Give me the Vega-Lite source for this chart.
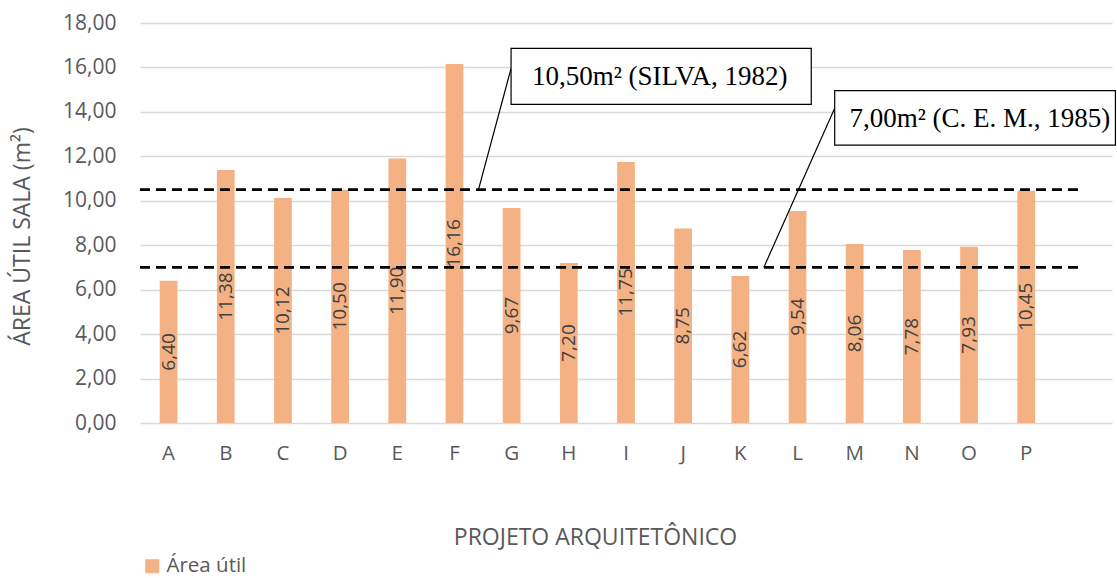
{
  "$schema": "https://vega.github.io/schema/vega-lite/v6.json",
  "width": 972,
  "height": 400,
  "autosize": {"type": "none"},
  "padding": {"left": 140, "top": 23, "right": 5, "bottom": 155},
  "config": {
    "locale": {"number": {"decimal": ",", "thousands": ".", "grouping": [3], "currency": ["R$", ""]}},
    "view": {"stroke": null},
    "font": "Open Sans"
  },
  "datasets": {
    "bars": [
      {"projeto": "A", "area": 6.40},
      {"projeto": "B", "area": 11.38},
      {"projeto": "C", "area": 10.12},
      {"projeto": "D", "area": 10.50},
      {"projeto": "E", "area": 11.90},
      {"projeto": "F", "area": 16.16},
      {"projeto": "G", "area": 9.67},
      {"projeto": "H", "area": 7.20},
      {"projeto": "I", "area": 11.75},
      {"projeto": "J", "area": 8.75},
      {"projeto": "K", "area": 6.62},
      {"projeto": "L", "area": 9.54},
      {"projeto": "M", "area": 8.06},
      {"projeto": "N", "area": 7.78},
      {"projeto": "O", "area": 7.93},
      {"projeto": "P", "area": 10.45}
    ],
    "refs": [
      {"ref": "SILVA", "valor": 10.5},
      {"ref": "CEM", "valor": 7.0}
    ]
  },
  "resolve": {"scale": {"x": "independent", "y": "independent"}},
  "layer": [
    {
      "data": {"name": "bars"},
      "mark": {"type": "bar"},
      "encoding": {
        "x": {
          "field": "projeto", "type": "nominal",
          "scale": {"domain": ["A","B","C","D","E","F","G","H","I","J","K","L","M","N","O","P",""], "paddingInner": 0.69, "paddingOuter": 0.345},
          "axis": {
            "title": "PROJETO ARQUITETÔNICO", "labelAngle": 0, "domain": false, "ticks": false, "tickSize": 0,
            "labelPadding": 30, "labelBaseline": "middle", "labelFontSize": 20.5, "labelColor": "#595959",
            "titleFontSize": 23, "titleFontWeight": "normal", "titleColor": "#595959",
            "titleX": 455, "titleY": 114, "titleBaseline": "middle", "titleAlign": "center"
          }
        },
        "y": {
          "field": "area", "type": "quantitative",
          "scale": {"domain": [0, 18], "nice": false},
          "axis": {
            "title": "ÁREA ÚTIL SALA (m²)", "values": [0,2,4,6,8,10,12,14,16,18], "format": ".2f",
            "domain": false, "ticks": false, "tickSize": 0, "labelPadding": 24,
            "labelFontSize": 21, "labelColor": "#595959",
            "grid": true, "gridColor": "#D9D9D9", "gridWidth": 1.5,
            "titleFontSize": 23, "titleFontWeight": "normal", "titleColor": "#595959",
            "titleX": -118, "titleY": 213, "titleAngle": 270, "titleBaseline": "middle", "titleAlign": "center"
          }
        },
        "color": {
          "datum": "Área útil", "type": "nominal",
          "scale": {"range": ["#F4B183"]},
          "legend": {
            "title": null, "orient": "none", "legendX": 2, "legendY": 533,
            "symbolType": "square", "symbolSize": 196, "symbolStrokeWidth": 0, "symbolOpacity": 1,
            "labelFontSize": 20.5, "labelColor": "#595959", "labelOffset": 4, "padding": 0
          }
        }
      }
    },
    {
      "data": {"name": "bars"},
      "mark": {"type": "text", "angle": 270, "align": "center", "baseline": "middle", "fontSize": 19, "color": "#404040"},
      "encoding": {
        "x": {
          "field": "projeto", "type": "nominal",
          "scale": {"domain": ["A","B","C","D","E","F","G","H","I","J","K","L","M","N","O","P",""], "paddingInner": 0.69, "paddingOuter": 0.345},
          "axis": null
        },
        "y": {"field": "area", "type": "quantitative", "scale": {"domain": [0, 36], "nice": false}, "axis": null},
        "text": {"field": "area", "type": "quantitative", "format": ".2f"}
      }
    },
    {
      "data": {"name": "refs"},
      "mark": {"type": "rule", "color": "#000000", "strokeWidth": 2.7, "strokeDash": [10, 6]},
      "encoding": {
        "x": {"datum": 0, "type": "quantitative", "scale": {"domain": [0, 17], "nice": false, "zero": false}, "axis": null},
        "x2": {"datum": 16.43},
        "y": {"field": "valor", "type": "quantitative", "scale": {"domain": [0, 18], "nice": false}, "axis": null}
      }
    },
    {
      "data": {"values": [{"ref": "SILVA"}]},
      "mark": {"type": "rule", "color": "#000000", "strokeWidth": 1.2},
      "encoding": {
        "x": {"datum": 6.49, "type": "quantitative", "scale": {"domain": [0, 17], "nice": false, "zero": false}, "axis": null},
        "x2": {"datum": 5.92},
        "y": {"datum": 15.96, "type": "quantitative", "scale": {"domain": [0, 18], "nice": false}, "axis": null},
        "y2": {"datum": 10.5}
      }
    },
    {
      "data": {"values": [{"ref": "CEM"}]},
      "mark": {"type": "rule", "color": "#000000", "strokeWidth": 1.2},
      "encoding": {
        "x": {"datum": 12.15, "type": "quantitative", "scale": {"domain": [0, 17], "nice": false, "zero": false}, "axis": null},
        "x2": {"datum": 10.91},
        "y": {"datum": 14.16, "type": "quantitative", "scale": {"domain": [0, 18], "nice": false}, "axis": null},
        "y2": {"datum": 7.0}
      }
    },
    {
      "data": {"values": [{"ref": "SILVA"}]},
      "mark": {"type": "rect", "fill": "#FFFFFF", "stroke": "#000000", "strokeWidth": 1.2},
      "encoding": {
        "x": {"datum": 6.49, "type": "quantitative", "scale": {"domain": [0, 17], "nice": false, "zero": false}, "axis": null},
        "x2": {"datum": 11.74},
        "y": {"datum": 16.86, "type": "quantitative", "scale": {"domain": [0, 18], "nice": false}, "axis": null},
        "y2": {"datum": 14.34}
      }
    },
    {
      "data": {"values": [{"ref": "CEM"}]},
      "mark": {"type": "rect", "fill": "#FFFFFF", "stroke": "#000000", "strokeWidth": 1.2},
      "encoding": {
        "x": {"datum": 12.15, "type": "quantitative", "scale": {"domain": [0, 17], "nice": false, "zero": false}, "axis": null},
        "x2": {"datum": 17.06},
        "y": {"datum": 14.96, "type": "quantitative", "scale": {"domain": [0, 18], "nice": false}, "axis": null},
        "y2": {"datum": 12.5}
      }
    },
    {
      "data": {"values": [{"nota": "10,50m² (SILVA, 1982)"}]},
      "mark": {"type": "text", "font": "Liberation Serif", "fontSize": 27, "color": "#000000", "align": "center", "baseline": "middle"},
      "encoding": {
        "x": {"datum": 9.09, "type": "quantitative", "scale": {"domain": [0, 17], "nice": false, "zero": false}, "axis": null},
        "y": {"datum": 15.55, "type": "quantitative", "scale": {"domain": [0, 18], "nice": false}, "axis": null},
        "text": {"field": "nota", "type": "nominal"}
      }
    },
    {
      "data": {"values": [{"nota": "7,00m² (C. E. M., 1985)"}]},
      "mark": {"type": "text", "font": "Liberation Serif", "fontSize": 27, "color": "#000000", "align": "center", "baseline": "middle"},
      "encoding": {
        "x": {"datum": 14.69, "type": "quantitative", "scale": {"domain": [0, 17], "nice": false, "zero": false}, "axis": null},
        "y": {"datum": 13.66, "type": "quantitative", "scale": {"domain": [0, 18], "nice": false}, "axis": null},
        "text": {"field": "nota", "type": "nominal"}
      }
    }
  ]
}
